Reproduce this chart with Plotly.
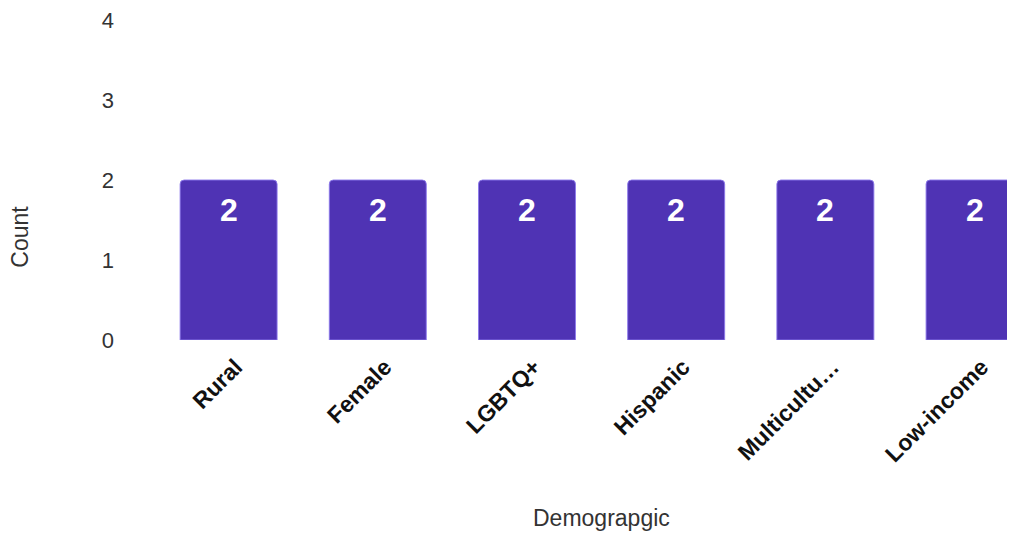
import plotly.graph_objects as go

categories = ["Rural", "Female", "LGBTQ+", "Hispanic", "Multicultu…", "Low-income"]
counts = [2, 2, 2, 2, 2, 2]
y_ticks = [0, 1, 2, 3, 4]

FONT = "Liberation Sans, Arial, sans-serif"
BAR_COLOR = "#4F33B4"

fig = go.Figure()
fig.add_trace(go.Bar(
    x=list(range(len(categories))),
    y=counts,
    marker=dict(color=BAR_COLOR, line=dict(color="rgba(140,120,235,0.9)", width=1), cornerradius=4),
    hoverinfo="skip",
))

annotations = []
for i, v in enumerate(counts):
    annotations.append(dict(
        x=i, y=v, xref="x", yref="y", text=f"<b>{v}</b>", showarrow=False,
        yanchor="top", yshift=-10,
        font=dict(family=FONT, size=32, color="white"),
    ))

annotations.append(dict(
    text="Count", xref="paper", yref="paper", x=-0.156, y=0.322,
    textangle=-90, showarrow=False, xanchor="center", yanchor="middle",
    font=dict(family=FONT, size=23, color="#333333"),
))
annotations.append(dict(
    text="Demograpgic", xref="paper", yref="paper", x=0.520, y=-0.556,
    showarrow=False, xanchor="center", yanchor="middle",
    font=dict(family=FONT, size=23, color="#333333"),
))

fig.update_layout(
    width=1007, height=525,
    margin=dict(l=146, r=0, t=12, b=193),
    paper_bgcolor="white", plot_bgcolor="white",
    showlegend=False,
    bargap=0.35,
    annotations=annotations,
    xaxis=dict(
        range=[-0.5, 5.271],
        tickmode="array",
        tickvals=list(range(len(categories))),
        ticktext=[f"<b>{c}</b>" for c in categories],
        tickangle=-45,
        tickfont=dict(family=FONT, size=23, color="#111111"),
        showgrid=False, zeroline=False, showline=False, ticks="",
        ticklabelstandoff=8, ticklabelshift=7,
    ),
    yaxis=dict(
        range=[0, 4],
        tickmode="array",
        tickvals=y_ticks,
        ticktext=[str(t) for t in y_ticks],
        tickfont=dict(family=FONT, size=22, color="#333333"),
        showgrid=False, zeroline=False, showline=False, ticks="",
        ticklabelstandoff=39,
        ticklabeloverflow="allow",
    ),
)

fig.write_html("out.html")
